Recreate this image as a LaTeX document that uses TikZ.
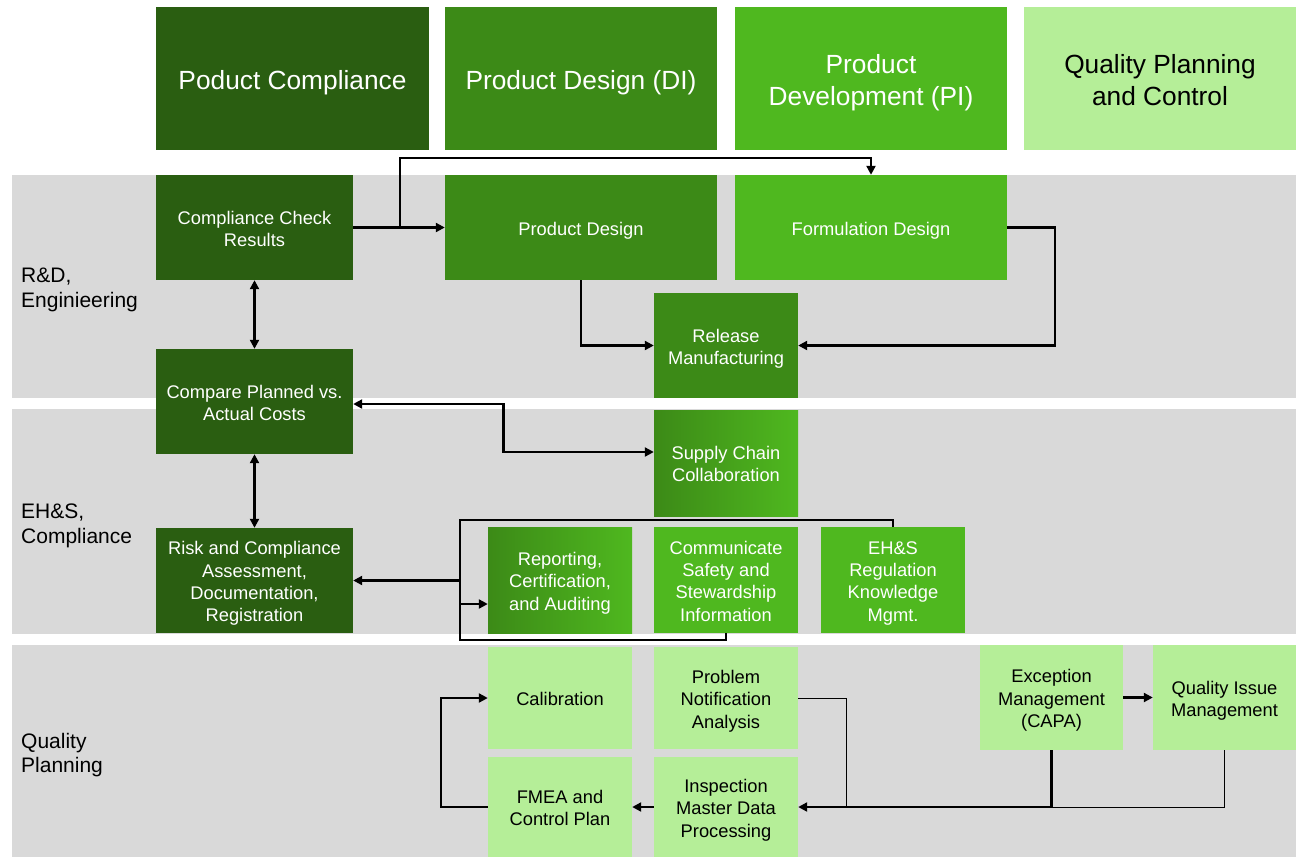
\documentclass[tikz,border=0pt]{standalone}
\usepackage{fontspec}
\setmainfont{Liberation Sans}
\usetikzlibrary{arrows.meta,calc}
\definecolor{dkg}{HTML}{2A5E11}
\definecolor{mdg}{HTML}{3C8A17}
\definecolor{brg}{HTML}{4FB81F}
\definecolor{ltg}{HTML}{B5EE98}
\definecolor{lanegray}{HTML}{D9D9D9}
\newcommand{\tsp}{\rule{0pt}{1.06em}}
\newcommand{\bsp}{\rule[-0.21em]{0pt}{0.21em}}
\begin{document}
\begin{tikzpicture}[x=1pt,y=-1pt,
  base/.style={rectangle, inner sep=2pt, align=center, font=\fontsize{18.3}{22.3}\selectfont, text=white},
  sz/.style 2 args={minimum width=#1pt, minimum height=#2pt},
  dkbox/.style={base, fill=dkg},
  mdbox/.style={base, fill=mdg},
  brbox/.style={base, fill=brg},
  grbox/.style={base, left color=mdg, right color=brg},
  ltbox/.style={base, fill=ltg, text=black},
  hdr/.style={font=\fontsize{26.3}{32}\selectfont},
  lanelabel/.style={anchor=west, align=left, inner sep=0pt, font=\fontsize{21}{24.5}\selectfont, text=black},
  conn/.style={line width=2.2pt},
  arr/.style={conn, -{Triangle[length=9pt,width=9pt]}},
  darr/.style={conn, {Triangle[length=9pt,width=9pt]}-{Triangle[length=9pt,width=9pt]}},
  thinline/.style={line width=1pt}
]
\useasboundingbox (0,0) rectangle (1301,857);
\fill[white] (0,0) rectangle (1301,857);
% lanes
\fill[lanegray] (12,175) rectangle (1296,398);
\fill[lanegray] (12,409) rectangle (1296,634);
\fill[lanegray] (12,645) rectangle (1296,857);
\node[lanelabel] (l1) at (21,290) {R\&D,\\Enginieering};
\node[lanelabel] (l2) at (21,526) {EH\&S,\\Compliance};
\node[lanelabel] (l3) at (21,755) {Quality\\Planning};
% headers
\node[dkbox, hdr, sz={273}{143}] (hPC) at (292.5,78.5) {\tsp Poduct Compliance\bsp};
\node[mdbox, hdr, sz={272}{143}] (hPD) at (581,78.5) {\tsp Product Design (DI)\bsp};
\node[brbox, hdr, sz={272}{143}] (hPV) at (871,78.5) {\tsp Product\\Development (PI)\bsp};
\node[ltbox, hdr, sz={272}{143}] (hQ) at (1160,78.5) {\tsp Quality Planning\\and Control\bsp};
% lane 1
\node[dkbox, sz={197}{105}] (ccr) at (254.5,227.5) {\tsp Compliance Check\\Results\bsp};
\node[mdbox, sz={272}{105}] (pd) at (581,227.5) {\tsp Product Design\bsp};
\node[brbox, sz={272}{105}] (fd) at (871,227.5) {\tsp Formulation Design\bsp};
\node[mdbox, sz={144}{105}] (rm) at (726,345.5) {\tsp Release\\Manufacturing\bsp};
\node[dkbox, sz={197}{105}] (cpa) at (254.5,401.5) {\tsp Compare Planned vs.\\Actual Costs\bsp};
% lane 2
\node[grbox, sz={144}{106}] (scc) at (726,463) {\tsp Supply Chain\\Collaboration\bsp};
\node[dkbox, sz={197}{105}] (rca) at (254.5,580.5) {\tsp Risk and Compliance\\Assessment,\\Documentation,\\Registration\bsp};
\node[grbox, sz={144}{106}] (rep) at (560,580) {\tsp Reporting,\\Certification,\\and Auditing\bsp};
\node[brbox, sz={144}{106}] (csi) at (726,580) {\tsp Communicate\\Safety and\\Stewardship\\Information\bsp};
\node[brbox, sz={144}{106}] (ehs) at (893,580) {\tsp EH\&S\\Regulation\\Knowledge\\Mgmt.\bsp};
% lane 3
\node[ltbox, sz={144}{102}] (cal) at (560,698) {\tsp Calibration\bsp};
\node[ltbox, sz={144}{102}] (pna) at (726,698) {\tsp Problem\\Notification\\Analysis\bsp};
\node[ltbox, sz={144}{100}] (fmea) at (560,807) {\tsp FMEA and\\Control Plan\bsp};
\node[ltbox, sz={144}{100}] (imd) at (726,807) {\tsp Inspection\\Master Data\\Processing\bsp};
\node[ltbox, sz={143}{105}] (exc) at (1051.5,697.5) {\tsp Exception\\Management\\(CAPA)\bsp};
\node[ltbox, sz={143}{105}] (qim) at (1224.5,697.5) {\tsp Quality Issue\\Management\bsp};
% connectors lane 1
\draw[arr] (ccr.east) -- (pd.west);
\coordinate (br) at (400,227.5);
\draw[arr] (br) |- ([yshift=17pt]fd.north) -- (fd.north);
\draw[darr] (ccr.south) -- (cpa.north);
\draw[darr] (cpa.south) -- (rca.north);
\draw[arr] (pd.south) |- (rm.west);
\draw[arr] (fd.east) -- ++(48,0) |- (rm.east);
% compare <-> supply chain
\coordinate (cpaE) at ([yshift=-2.5pt]cpa.east);
\coordinate (sccW) at ([yshift=11pt]scc.west);
\draw[darr] (cpaE) -| ($(cpaE)!0.5!(sccW)$) |- (sccW);
% loop
\coordinate (lpTop) at (460,520);
\coordinate (lpBot) at (460,640);
\draw[conn] (ehs.north) |- (lpTop) -- (lpBot) -| (csi.south);
\coordinate (lpR) at (460,580.5);
\draw[arr] (lpR) -- (rca.east);
\coordinate (lpE) at (460,604);
\draw[arr] (lpE) -- (lpE -| rep.west);
% lane 3
\draw[arr] (fmea.west) -- ++(-47,0) |- (cal.west);
\draw[arr] (imd.west) -- (fmea.east);
\coordinate (jn) at (exc.south |- imd.east);
\draw[thinline] (pna.east) -| (846,807);
\draw[thinline] (qim.south) |- (jn);
\draw[arr] (exc.south) |- (imd.east);
\draw[arr] (exc.east) -- (qim.west);
\end{tikzpicture}
\end{document}
